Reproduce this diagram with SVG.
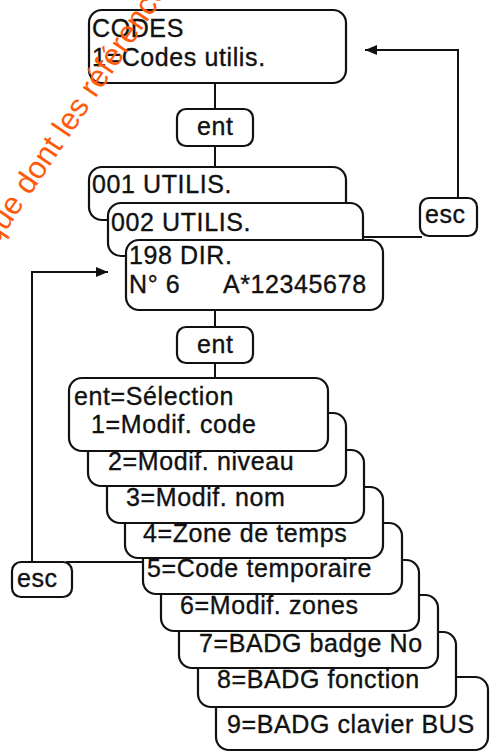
<svg xmlns="http://www.w3.org/2000/svg" width="490" height="752" viewBox="0 0 490 752">
  <defs>
    <marker id="arrow" viewBox="0 0 12 10" refX="12" refY="5" markerWidth="12" markerHeight="10" markerUnits="userSpaceOnUse" orient="auto">
      <path d="M0,0 L12,5 L0,10 Z" fill="#111"/>
    </marker>
  </defs>
  <style>
    .box { fill: #fff; stroke: #111; stroke-width: 2.2; }
    .key { fill: #fff; stroke: #111; stroke-width: 2.2; }
    .t { font-family: "Liberation Sans", Arial, sans-serif; font-size: 25px; fill: #111; stroke: #111; stroke-width: 0.35; letter-spacing: 0.6px; }
    .conn { fill: none; stroke: #111; stroke-width: 2; }
    .wm { font-family: "Liberation Sans", Arial, sans-serif; font-size: 31px; fill: #ff5a0a; }
  </style>
  <rect width="490" height="752" fill="#fff"/>

  <g id="connectors">
    <line class="conn" x1="215" y1="83" x2="215" y2="109"/>
    <line class="conn" x1="215" y1="146" x2="215" y2="167"/>
    <line class="conn" x1="215" y1="310" x2="215" y2="327"/>
    <line class="conn" x1="215" y1="363" x2="215" y2="378"/>
    <polyline class="conn" points="458,198 458,50 365,50" marker-end="url(#arrow)"/>
    <line class="conn" x1="363" y1="237" x2="422" y2="237"/>
    <polyline class="conn" points="32,562 32,272 108,272" marker-end="url(#arrow)"/>
    <line class="conn" x1="66" y1="562" x2="143" y2="562"/>
  </g>

  <g id="codes">
    <rect class="box" x="89" y="10" width="257" height="73" rx="13"/>
    <text class="t" x="92" y="37">CODES</text>
    <text class="t" x="92" y="66">1=Codes utilis.</text>
  </g>

  <g id="ent1">
    <rect class="key" x="177" y="109" width="76" height="37" rx="9"/>
    <text class="t" x="197" y="135">ent</text>
  </g>

  <g id="user001">
    <rect class="box" x="89" y="167" width="257" height="53" rx="13"/>
    <text class="t" x="92" y="193">001 UTILIS.</text>
  </g>
  <g id="user002">
    <rect class="box" x="108" y="203" width="255" height="53" rx="13"/>
    <text class="t" x="111" y="231">002 UTILIS.</text>
  </g>
  <g id="user198">
    <rect class="box" x="126" y="240" width="257" height="70" rx="13"/>
    <text class="t" x="129" y="264">198 DIR.</text>
    <text class="t" x="129" y="293">N° 6</text>
    <text class="t" x="223" y="293">A*12345678</text>
  </g>

  <g id="esc1">
    <rect class="key" x="420" y="198" width="57" height="38" rx="9"/>
    <text class="t" x="425" y="223">esc</text>
  </g>

  <g id="ent2">
    <rect class="key" x="177" y="327" width="76" height="36" rx="9"/>
    <text class="t" x="197" y="353">ent</text>
  </g>

  <g id="menu9">
    <rect class="box" x="216" y="677" width="272" height="73" rx="13"/>
    <text class="t" x="227" y="733">9=BADG clavier BUS</text>
  </g>
  <g id="menu8">
    <rect class="box" x="198" y="632" width="258" height="75" rx="13"/>
    <text class="t" x="217" y="688">8=BADG fonction</text>
  </g>
  <g id="menu7">
    <rect class="box" x="179" y="595" width="259" height="73" rx="13"/>
    <text class="t" x="199" y="652">7=BADG badge No</text>
  </g>
  <g id="menu6">
    <rect class="box" x="161" y="560" width="258" height="71" rx="13"/>
    <text class="t" x="180" y="614">6=Modif. zones</text>
  </g>
  <g id="menu5">
    <rect class="box" x="143" y="523" width="259" height="71" rx="13"/>
    <text class="t" x="147" y="577">5=Code temporaire</text>
  </g>
  <g id="menu4">
    <rect class="box" x="125" y="487" width="258" height="71" rx="13"/>
    <text class="t" x="143" y="542">4=Zone de temps</text>
  </g>
  <g id="menu3">
    <rect class="box" x="107" y="450" width="257" height="73" rx="13"/>
    <text class="t" x="126" y="506">3=Modif. nom</text>
  </g>
  <g id="menu2">
    <rect class="box" x="88" y="413" width="258" height="73" rx="13"/>
    <text class="t" x="108" y="470">2=Modif. niveau</text>
  </g>
  <g id="selection">
    <rect class="box" x="69" y="378" width="259" height="73" rx="13"/>
    <text class="t" x="74" y="405">ent=Sélection</text>
    <text class="t" x="91" y="433">1=Modif. code</text>
  </g>

  <g id="esc2">
    <rect class="key" x="12" y="562" width="60" height="35" rx="9"/>
    <text class="t" x="17" y="587">esc</text>
  </g>

  <text class="wm" transform="translate(-4,246) rotate(-56)">que dont les référence</text>
</svg>
